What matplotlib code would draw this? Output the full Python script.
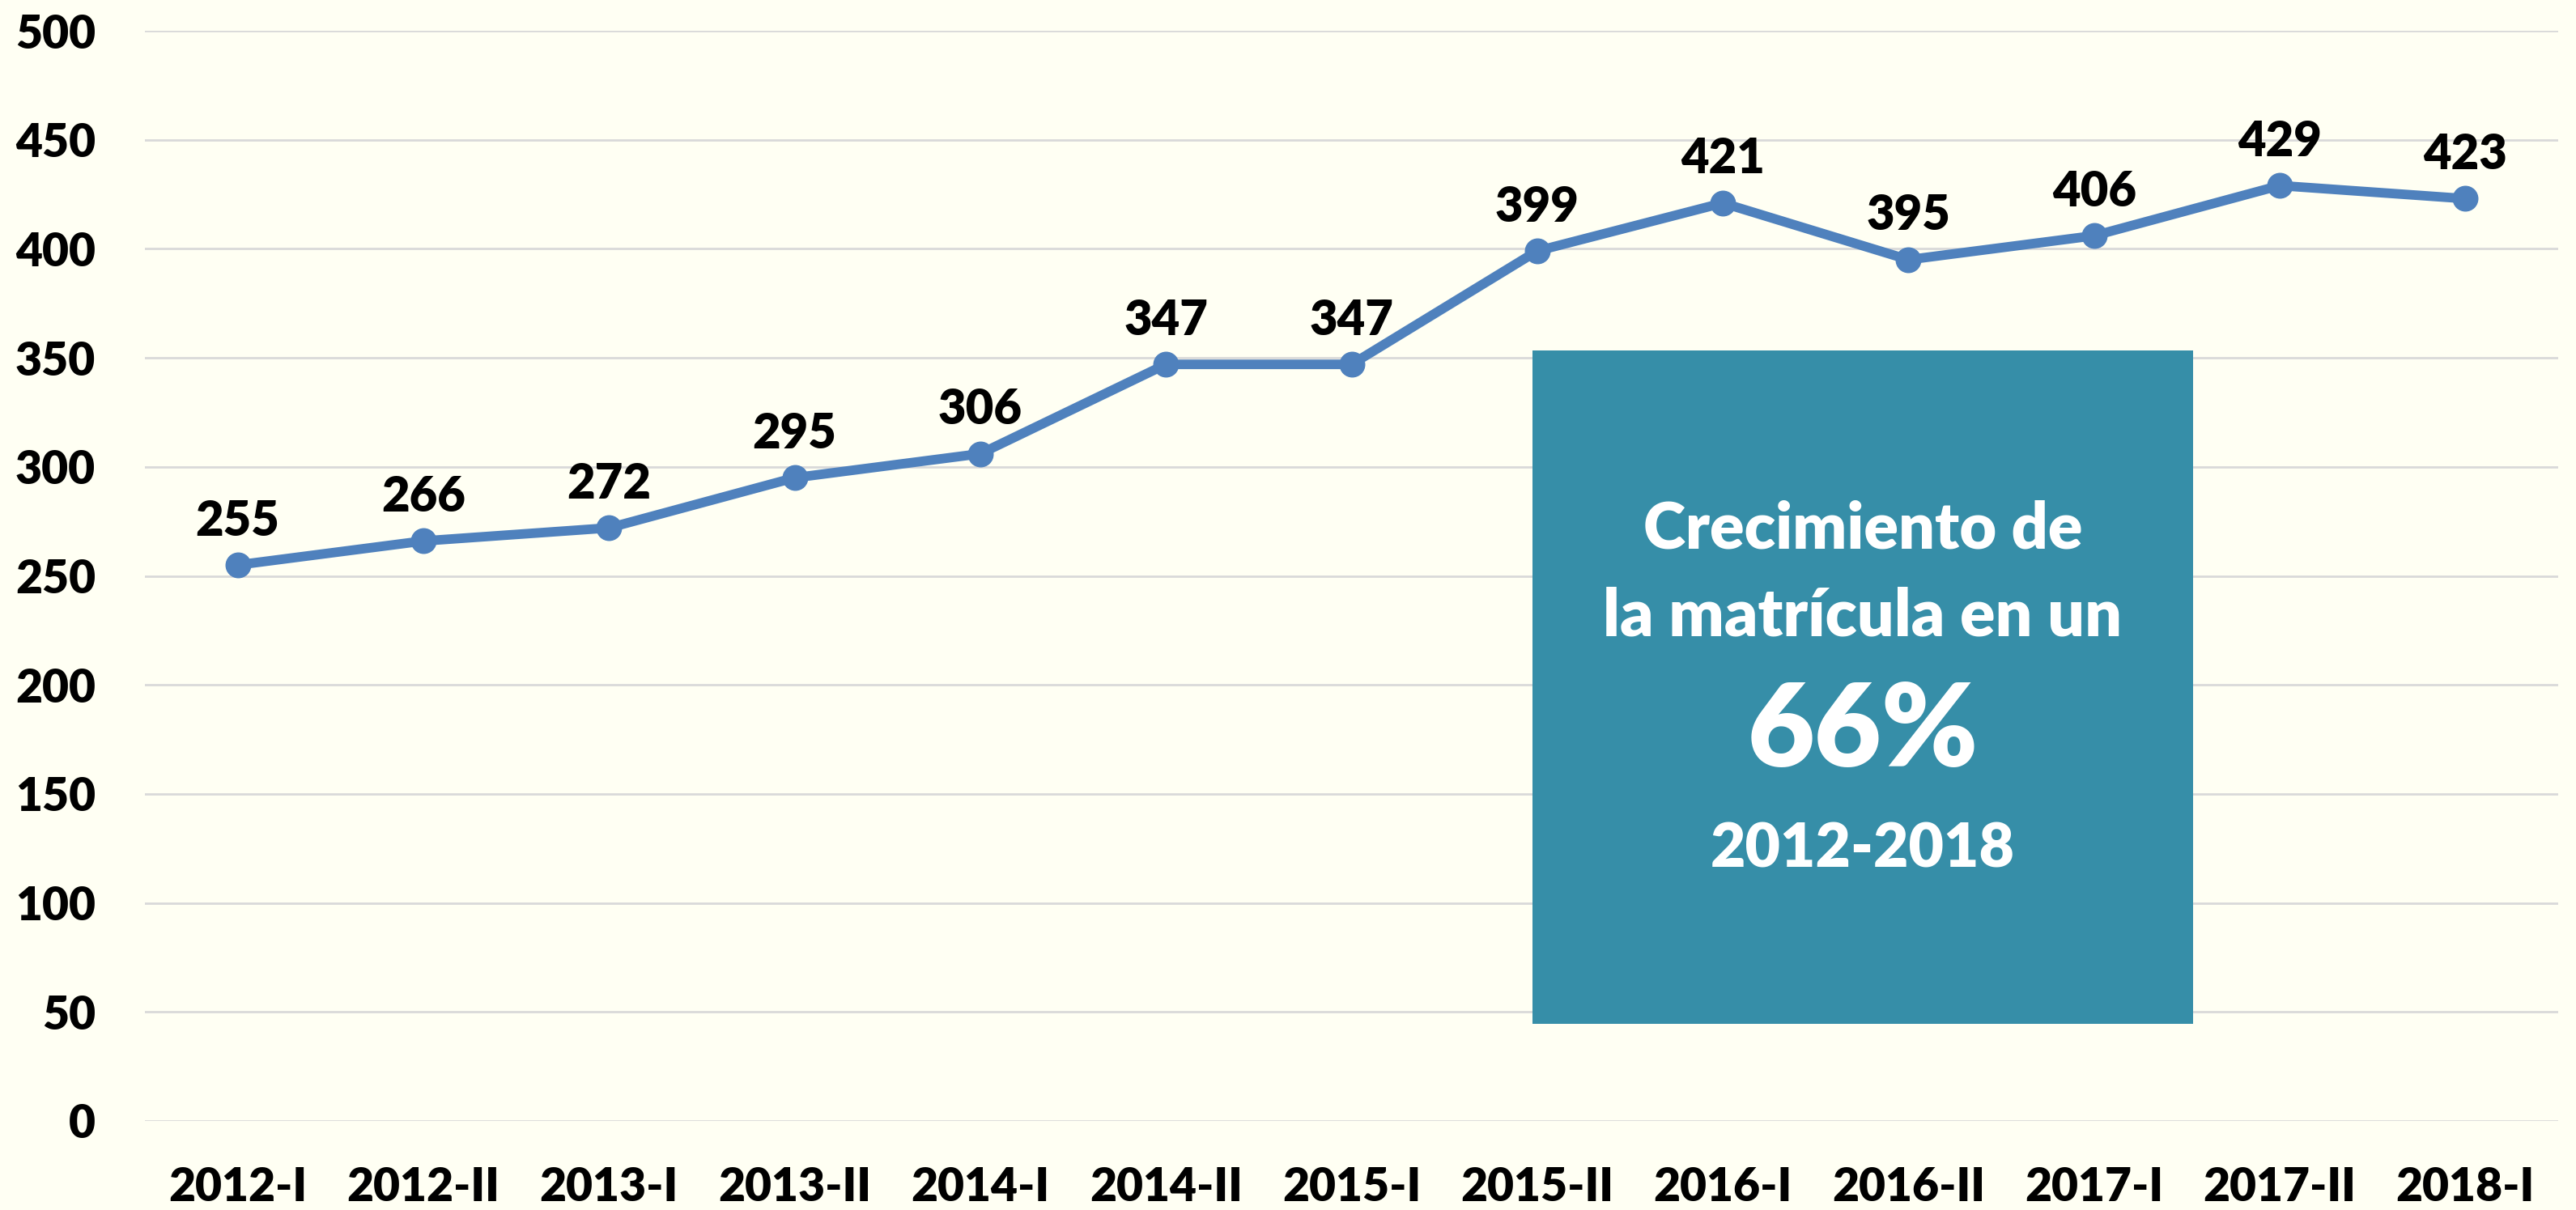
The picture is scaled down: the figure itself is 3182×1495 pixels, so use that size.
import matplotlib
matplotlib.use("Agg")
import matplotlib.pyplot as plt
from matplotlib.patches import Rectangle

plt.rcParams['font.family'] = ['Lato', 'DejaVu Sans']

categories = ["2012-I", "2012-II", "2013-I", "2013-II", "2014-I", "2014-II", "2015-I",
              "2015-II", "2016-I", "2016-II", "2017-I", "2017-II", "2018-I"]
values = [255, 266, 272, 295, 306, 347, 347, 399, 421, 395, 406, 429, 423]
yticks = [0, 50, 100, 150, 200, 250, 300, 350, 400, 450, 500]
box_lines = ["Crecimiento de", "la matrícula en un", "66%", "2012-2018"]

bg = "#FFFFF3"
W = "heavy"
fig = plt.figure(figsize=(31.82, 14.95), dpi=100, facecolor=bg)
ax = fig.add_axes([179/3182, 1 - 1385/1495, (3160-179)/3182, (1385-38)/1495])
ax.set_facecolor(bg)

x = list(range(len(categories)))
ax.plot(x, values, color="#4F81BD", linewidth=8.5, marker="o", markersize=22,
        solid_joinstyle="round", zorder=3, clip_on=False)
for xi, v in zip(x, values):
    ax.annotate(str(v), (xi, v), xytext=(0, 19), textcoords="offset points",
                ha="center", va="bottom", fontsize=43, fontweight=W, color="black")

ax.set_xlim(-0.5, len(categories) - 0.5)
ax.set_ylim(0, 500)
ax.set_yticks(yticks)
ax.set_xticks(x)
ax.set_xticklabels(categories)
ax.grid(axis="y", color="#D9D9D9", linewidth=2)
ax.set_axisbelow(True)
for s in ax.spines.values():
    s.set_visible(False)
ax.tick_params(axis="both", length=0, labelsize=41)
ax.tick_params(axis="y", pad=44)
ax.tick_params(axis="x", pad=40)
for lab in ax.get_xticklabels() + ax.get_yticklabels():
    lab.set_fontweight(W)

# Highlight box
x0, x1 = 1893/3182, 2709/3182
y0, y1 = 1 - 1265/1495, 1 - 433/1495
fig.add_artist(Rectangle((x0, y0), x1 - x0, y1 - y0, transform=fig.transFigure,
                         facecolor="#368EA8", edgecolor="none", zorder=5))
cx = 2301/3182
ys = [1 - 654/1495, 1 - 762/1495, 1 - 905/1495, 1 - 1050/1495]
sizes = [57, 58, 103, 54]
for t, yy, fs in zip(box_lines, ys, sizes):
    fig.text(cx, yy, t, ha="center", va="center", fontsize=fs, fontweight=W,
             color="white", zorder=6)

fig.savefig("out.png", dpi=100, facecolor=bg)
